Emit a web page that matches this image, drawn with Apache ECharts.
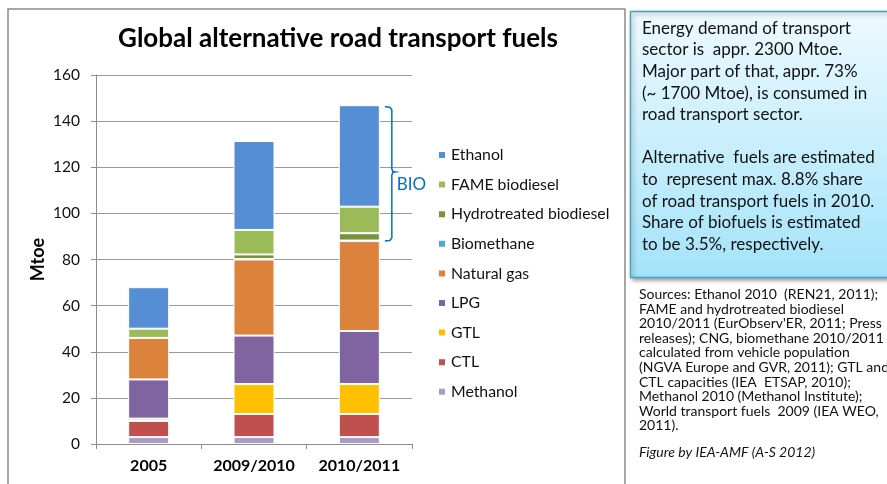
<!DOCTYPE html>
<html>
<head>
<meta charset="utf-8">
<script src="https://cdn.jsdelivr.net/npm/echarts@6/dist/echarts.min.js"></script>
<style>
  html, body { margin: 0; padding: 0; background: #fff; }
  #main { width: 887px; height: 484px; }
</style>
</head>
<body>
<div id="main"></div>
<script>
// data (Mtoe)
const categories = ["2005", "2009/2010", "2010/2011"];
const methanol = [3, 3, 3];
const ctl = [7, 10, 10];
const gtl = [1, 13, 13];
const lpg = [17, 21, 23];
const naturalGas = [18, 33, 39];
const biomethane = [0, 0.2, 0.2];
const hydrotreated = [0, 2.0, 3.2];
const fame = [4, 10.6, 11.5];
const ethanol = [18, 38.6, 44];
const yTicks = [0, 20, 40, 60, 80, 100, 120, 140, 160];

const FONT = "Lato, 'Open Sans', sans-serif";

// stack order bottom -> top
const seriesDefs = [
  { name: "Methanol", data: methanol, color: "#a99bc6" },
  { name: "CTL", data: ctl, color: "#c0504d" },
  { name: "GTL", data: gtl, color: "#ffc000" },
  { name: "LPG", data: lpg, color: "#8064a2" },
  { name: "Natural gas", data: naturalGas, color: "#db833d" },
  { name: "Biomethane", data: biomethane, color: "#4bacc6" },
  { name: "Hydrotreated biodiesel", data: hydrotreated, color: "#77933c" },
  { name: "FAME biodiesel", data: fame, color: "#9bbb59" },
  { name: "Ethanol", data: ethanol, color: "#558ed5" },
];

const chart = echarts.init(document.getElementById("main"));

const boxText = [
  "Energy demand of transport",
  "sector is  appr. 2300 Mtoe.",
  "Major part of that, appr. 73%",
  "(~ 1700 Mtoe), is consumed in",
  "road transport sector.",
  "",
  "Alternative  fuels are estimated",
  "to  represent max. 8.8% share",
  "of road transport fuels in 2010.",
  "Share of biofuels is estimated",
  "to be 3.5%, respectively.",
].join("\n");

const sourceText = [
  "Sources: Ethanol 2010  (REN21, 2011);",
  "FAME and hydrotreated biodiesel",
  "2010/2011 (EurObserv'ER, 2011; Press",
  "releases); CNG, biomethane 2010/2011",
  "calculated from vehicle population",
  "(NGVA Europe and GVR, 2011); GTL and",
  "CTL capacities (IEA  ETSAP, 2010);",
  "Methanol 2010 (Methanol Institute);",
  "World transport fuels  2009 (IEA WEO,",
  "2011).",
].join("\n");

const staticGraphics = [
  // chart frame
  {
    type: "rect", z: -10, silent: true,
    shape: { x: 8, y: 9, width: 617, height: 490 },
    style: { fill: "transparent", stroke: "#8a8a8a", lineWidth: 1.5 },
  },
  // blue text box
  {
    type: "rect", z: 5, silent: true,
    shape: { x: 630.5, y: 11.5, width: 270, height: 266 },
    style: {
      fill: new echarts.graphic.LinearGradient(0, 0, 0, 1, [
        { offset: 0, color: "#eefaff" },
        { offset: 1, color: "#a3e3fa" },
      ]),
      stroke: "#45a2c4", lineWidth: 1.5,
      shadowBlur: 4, shadowOffsetX: 2, shadowOffsetY: 2,
      shadowColor: "rgba(0,0,0,0.35)",
    },
  },
  {
    type: "text", z: 6, silent: true,
    style: {
      x: 642, y: 17.5, text: boxText, fill: "#111",
      font: "17px " + FONT, lineHeight: 21.6, verticalAlign: "top",
    },
  },
  {
    type: "text", z: 6, silent: true,
    style: {
      x: 639, y: 287.5, text: sourceText, fill: "#111",
      font: "14px " + FONT, lineHeight: 14.55, verticalAlign: "top",
    },
  },
  {
    type: "text", z: 6, silent: true,
    style: {
      x: 639, y: 445.5, text: "Figure by IEA-AMF (A-S 2012)", fill: "#111",
      font: "italic 14px " + FONT, verticalAlign: "top",
    },
  },
];

const option = {
  backgroundColor: "#fff",
  animation: false,
  title: {
    text: "Global alternative road transport fuels",
    left: 333,
    top: 21,
    textAlign: "center",
    textStyle: { fontFamily: FONT, fontWeight: "bold", fontSize: 26, color: "#000" },
  },
  grid: { left: 96, right: 475, top: 75, bottom: 40 },
  legend: {
    orient: "vertical",
    left: 432,
    top: 142,
    icon: "rect",
    itemWidth: 8,
    itemHeight: 8,
    itemGap: 13.6,
    data: seriesDefs.map((s) => s.name).reverse(),
    textStyle: { fontFamily: FONT, fontSize: 15.8, color: "#111", lineHeight: 16 },
  },
  xAxis: {
    type: "category",
    data: categories,
    axisLine: { lineStyle: { color: "#8c8c8c" } },
    axisTick: { show: true, length: 5, lineStyle: { color: "#8c8c8c" } },
    axisLabel: { interval: 0, fontFamily: FONT, fontWeight: "bold", fontSize: 16, color: "#000", margin: 14 },
  },
  yAxis: {
    type: "value",
    min: yTicks[0],
    max: yTicks[yTicks.length - 1],
    interval: 20,
    name: "Mtoe",
    nameLocation: "middle",
    nameRotate: 90,
    nameGap: 49,
    nameTextStyle: { fontFamily: FONT, fontWeight: "bold", fontSize: 18, color: "#000" },
    axisLine: { show: true, lineStyle: { color: "#8c8c8c" } },
    axisTick: { show: true, length: 5, lineStyle: { color: "#8c8c8c" } },
    splitLine: { lineStyle: { color: "#9a9a9a" } },
    axisLabel: { fontFamily: FONT, fontSize: 15.5, color: "#111", margin: 16 },
  },
  series: seriesDefs.map((s) => ({
    name: s.name,
    type: "bar",
    stack: "fuels",
    barWidth: 41,
    data: s.data,
    itemStyle: { color: s.color, borderColor: "#fff", borderWidth: 1 },
  })),
  graphic: staticGraphics,
};

chart.setOption(option);

// BIO bracket next to the 2010/2011 bar, positioned through the axes
const last = categories.length - 1;
const belowBio = methanol[last] + ctl[last] + gtl[last] + lpg[last] + naturalGas[last];
const total = belowBio + biomethane[last] + hydrotreated[last] + fame[last] + ethanol[last];
const pTop = chart.convertToPixel({ gridIndex: 0 }, [categories[last], total]);
const pBot = chart.convertToPixel({ gridIndex: 0 }, [categories[last], belowBio]);
const vx = pTop[0] + 20.5 + 12;
const yT = pTop[1] + 1.5;
const yB = pBot[1];
const yM = (yT + yB) / 2 - 2;
const bracePoints = [
  [vx - 7, yT], [vx - 2, yT + 0.5], [vx, yT + 3],
  [vx, yM - 3], [vx + 1, yM - 0.5], [vx + 4, yM],
  [vx + 1, yM + 0.5], [vx, yM + 3],
  [vx, yB - 3], [vx - 2, yB - 0.5], [vx - 7, yB],
];

chart.setOption({
  graphic: staticGraphics.concat([
    {
      type: "polyline", z: 10, silent: true,
      shape: { points: bracePoints },
      style: { fill: null, stroke: "#0070c0", lineWidth: 1.5 },
    },
    {
      type: "text", z: 10, silent: true,
      style: {
        x: vx + 5, y: yM + 13, text: "BIO", fill: "#0070c0",
        font: "17px " + FONT, verticalAlign: "middle",
      },
    },
  ]),
});
</script>
</body>
</html>
